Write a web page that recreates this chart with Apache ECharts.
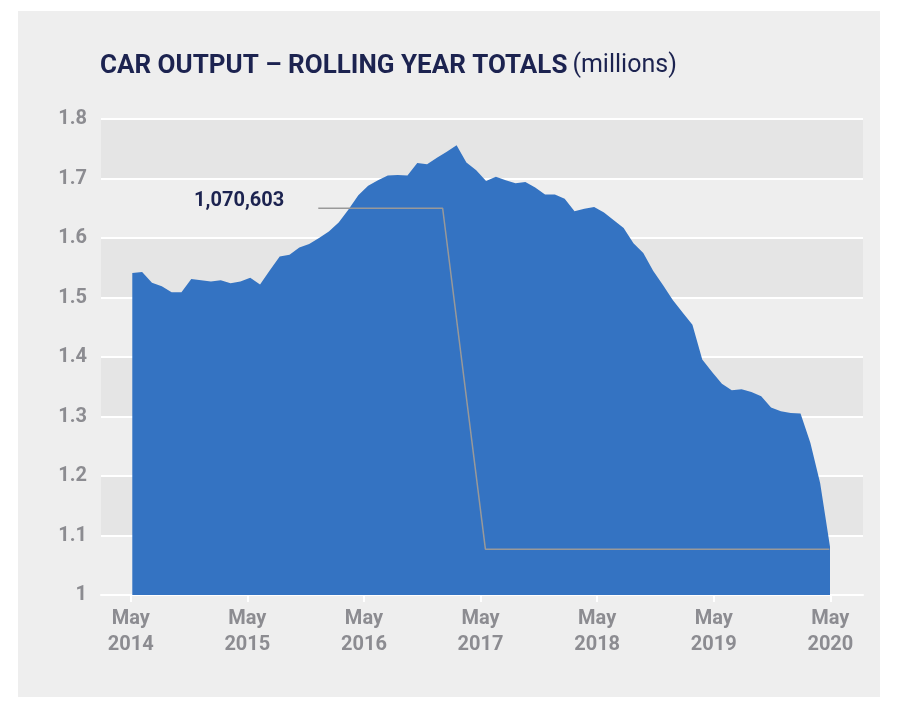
<!DOCTYPE html>
<html>
<head>
<meta charset="utf-8">
<script src="https://cdn.jsdelivr.net/npm/echarts@6/dist/echarts.min.js"></script>
<style>
  html, body { margin: 0; padding: 0; background: #ffffff; width: 906px; height: 714px; overflow: hidden; }
  #panel { position: absolute; left: 18px; top: 11px; width: 862px; height: 686px; background: #eeeeee; }
  #chart { width: 862px; height: 686px; }
</style>
</head>
<body>
<div id="panel"><div id="chart"></div></div>
<script>
// Rolling year totals of UK car output (millions), monthly, Jun 2014 – May 2020
const months = [
  'Jun 2014','Jul 2014','Aug 2014','Sep 2014','Oct 2014','Nov 2014','Dec 2014','Jan 2015','Feb 2015','Mar 2015','Apr 2015','May 2015',
  'Jun 2015','Jul 2015','Aug 2015','Sep 2015','Oct 2015','Nov 2015','Dec 2015','Jan 2016','Feb 2016','Mar 2016','Apr 2016','May 2016',
  'Jun 2016','Jul 2016','Aug 2016','Sep 2016','Oct 2016','Nov 2016','Dec 2016','Jan 2017','Feb 2017','Mar 2017','Apr 2017','May 2017',
  'Jun 2017','Jul 2017','Aug 2017','Sep 2017','Oct 2017','Nov 2017','Dec 2017','Jan 2018','Feb 2018','Mar 2018','Apr 2018','May 2018',
  'Jun 2018','Jul 2018','Aug 2018','Sep 2018','Oct 2018','Nov 2018','Dec 2018','Jan 2019','Feb 2019','Mar 2019','Apr 2019','May 2019',
  'Jun 2019','Jul 2019','Aug 2019','Sep 2019','Oct 2019','Nov 2019','Dec 2019','Jan 2020','Feb 2020','Mar 2020','Apr 2020','May 2020'
];
const output = [
  1.541, 1.543, 1.525, 1.519, 1.509, 1.509, 1.531, 1.529, 1.527, 1.529, 1.524, 1.527,
  1.533, 1.522, 1.546, 1.569, 1.572, 1.584, 1.590, 1.600, 1.611, 1.626, 1.648, 1.672,
  1.688, 1.697, 1.705, 1.706, 1.705, 1.726, 1.724, 1.735, 1.745, 1.756, 1.727, 1.714,
  1.696, 1.703, 1.697, 1.692, 1.694, 1.685, 1.673, 1.673, 1.666, 1.645, 1.649, 1.652,
  1.643, 1.630, 1.617, 1.591, 1.575, 1.545, 1.521, 1.496, 1.475, 1.454, 1.396, 1.375,
  1.355, 1.344, 1.346, 1.341, 1.334, 1.315, 1.309, 1.306, 1.305, 1.256, 1.188, 1.081
];
// x-axis tick labels (months since May 2014)
const tickMonths = [0, 12, 24, 36, 48, 60, 72];
const tickLabels = ['May\n2014', 'May\n2015', 'May\n2016', 'May\n2017', 'May\n2018', 'May\n2019', 'May\n2020'];
const yTicks = ['1', '1.1', '1.2', '1.3', '1.4', '1.5', '1.6', '1.7', '1.8'];
// annotation leader line (months since May 2014, millions)
const annotationText = '1,070,603';
const annotationX = [19.3, 32.1, 36.5, 71.9];
const annotationY = [1.65, 1.65, 1.077, 1.077];

const font = 'Roboto, "Noto Sans", sans-serif';
const navy = '#1c2350';
const grey = '#8c8c91';

const chart = echarts.init(document.getElementById('chart'), null, { renderer: 'canvas' });
chart.setOption({
  animation: false,
  title: {
    left: 77, top: 37,
    text: '{b|CAR OUTPUT – ROLLING YEAR TOTALS} {r|(millions)}',
    textStyle: {
      rich: {
        b: { fontFamily: font, fontSize: 26, fontWeight: 'bold', color: navy },
        r: { fontFamily: font, fontSize: 25, fontWeight: 'normal', color: navy }
      }
    }
  },
  grid: [
    { left: 83, right: 17, top: 108, bottom: 102 },
    { left: 114.3, right: 50, top: 108, bottom: 102 }
  ],
  xAxis: [
    {
      type: 'value', gridIndex: 0, min: -3.06, max: 75.36,
      axisLine: { show: true, lineStyle: { color: '#ffffff', width: 2 } },
      axisTick: { show: true, customValues: tickMonths, length: 7, lineStyle: { color: '#ffffff', width: 2 } },
      axisLabel: {
        customValues: tickMonths,
        formatter: v => tickLabels[tickMonths.indexOf(Math.round(v))] || '',
        color: grey, fontFamily: font, fontSize: 20, fontWeight: 'bold', lineHeight: 26, margin: 11
      },
      splitLine: { show: false }
    },
    {
      type: 'category', gridIndex: 1, data: months, boundaryGap: false, show: false
    }
  ],
  yAxis: [
    {
      type: 'value', gridIndex: 0, min: 1, max: 1.8, interval: 0.1,
      axisLine: { show: false }, axisTick: { show: false },
      axisLabel: {
        formatter: v => yTicks[Math.round((v - 1) * 10)],
        color: grey, fontFamily: font, fontSize: 20, fontWeight: 'bold', margin: 14
      },
      splitLine: { show: true, lineStyle: { color: '#ffffff', width: 2 } },
      splitArea: { show: true, areaStyle: { color: ['#eeeeee', '#e5e5e5'] } }
    },
    {
      type: 'value', gridIndex: 1, min: 1, max: 1.8, show: false, splitLine: { show: false }
    }
  ],
  series: [
    {
      type: 'line', xAxisIndex: 1, yAxisIndex: 1, data: output,
      showSymbol: false, symbol: 'none',
      lineStyle: { width: 0, color: '#3473c2' },
      areaStyle: { color: '#3473c2', opacity: 1 },
      z: 2
    },
    {
      type: 'line', xAxisIndex: 0, yAxisIndex: 0,
      data: annotationX.map((x, i) => [x, annotationY[i]]),
      showSymbol: false, symbol: 'none',
      emphasis: { disabled: true },
      lineStyle: { color: '#999999', width: 1.5 },
      z: 3
    },
    {
      type: 'scatter', xAxisIndex: 0, yAxisIndex: 0,
      data: [[annotationX[0], annotationY[0]]],
      symbol: 'circle', symbolSize: 2,
      itemStyle: { color: 'rgba(0,0,0,0)', opacity: 1 },
      emphasis: { disabled: true },
      label: {
        show: true, position: 'left', distance: 33, offset: [0, -7],
        formatter: annotationText,
        color: navy, fontFamily: font, fontSize: 20, fontWeight: 'bold'
      },
      z: 4
    }
  ]
});
</script>
</body>
</html>
